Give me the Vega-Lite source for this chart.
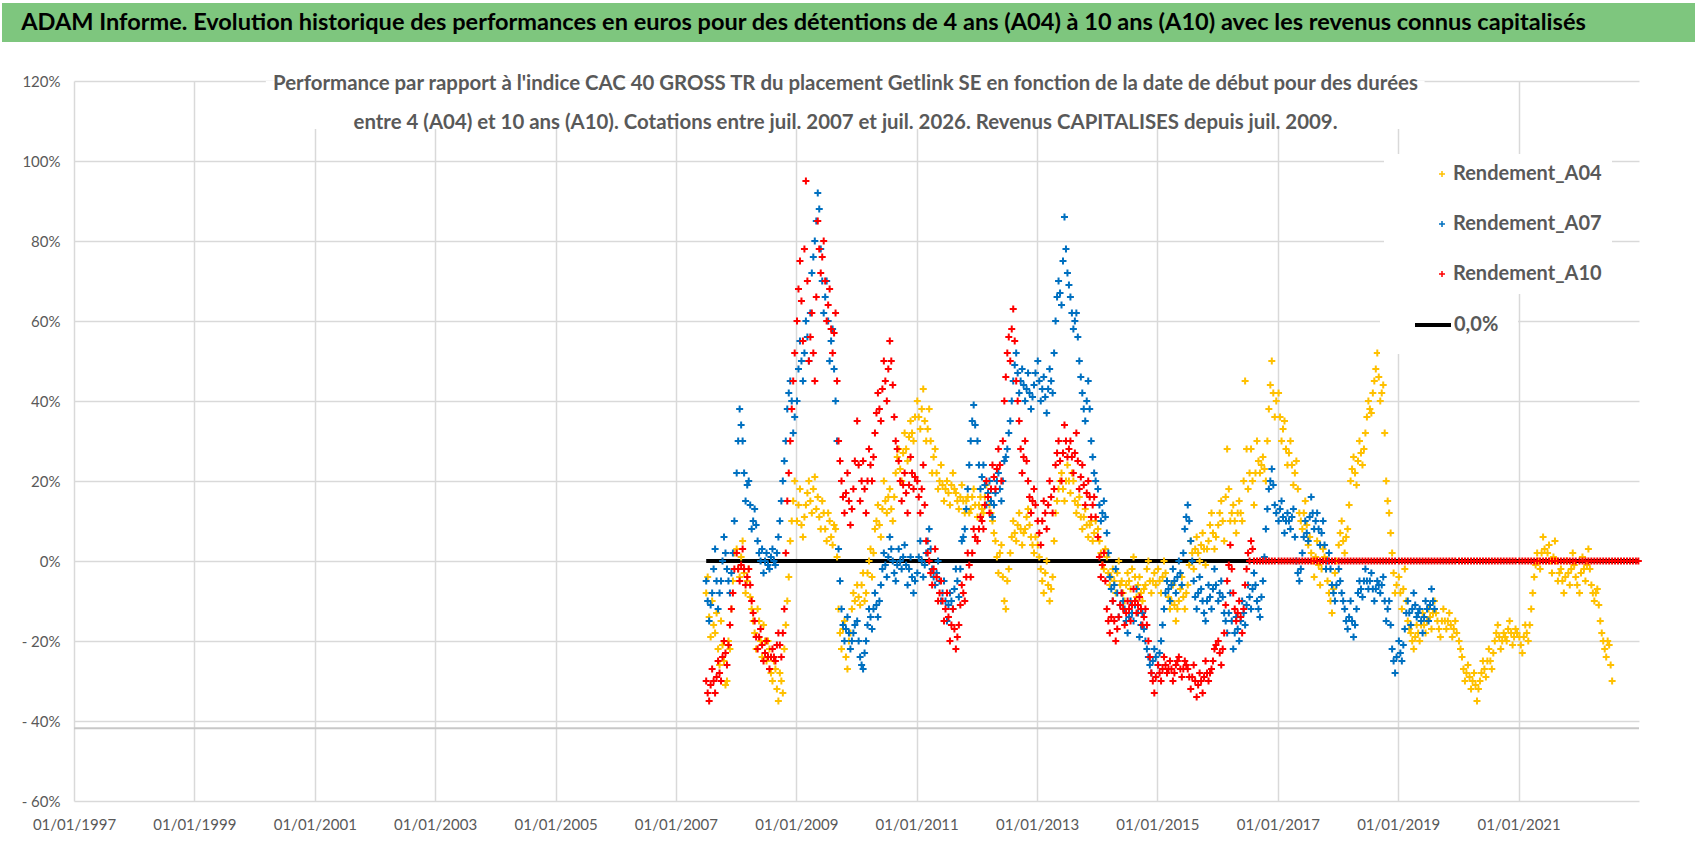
{
"$schema": "https://vega.github.io/schema/vega-lite/v6.json",
"background": "white",
"padding": {"left": 2, "top": 3, "right": 0, "bottom": 0},
"config": {"view": {"stroke": null}, "font": "Lato"},
"spacing": 31,
"datasets": {
"zero": [{"d":"2007-07-04","v":0},{"d":"2022-12-28","v":0}],
"a04": [
{"d":"2007-07-04","v":-0.08},{"d":"2007-07-22","v":-0.14},{"d":"2007-08-09","v":-0.1},{"d":"2007-08-27","v":-0.18},{"d":"2007-09-14","v":-0.22},{"d":"2007-10-02","v":-0.15},{"d":"2007-10-20","v":-0.25},{"d":"2007-11-07","v":-0.3},{"d":"2007-11-25","v":-0.22},{"d":"2007-12-13","v":-0.05},
{"d":"2007-07-13","v":-0.04},{"d":"2007-07-31","v":-0.19},{"d":"2007-08-18","v":-0.16},{"d":"2007-09-05","v":-0.13},{"d":"2007-09-23","v":-0.26},{"d":"2007-10-11","v":-0.21},{"d":"2007-10-29","v":-0.31},{"d":"2007-11-16","v":-0.2},{"d":"2007-12-04","v":-0.12},{"d":"2007-12-22","v":0.02},
{"d":"2008-01-05","v":0.03},{"d":"2008-01-23","v":-0.04},{"d":"2008-02-10","v":0.05},{"d":"2008-02-28","v":-0.08},{"d":"2008-03-18","v":-0.02},{"d":"2008-04-05","v":-0.12},{"d":"2008-04-23","v":-0.18},{"d":"2008-05-11","v":-0.12},{"d":"2008-05-29","v":-0.2},{"d":"2008-06-16","v":-0.16},{"d":"2008-07-04","v":-0.25},{"d":"2008-07-22","v":-0.22},{"d":"2008-08-09","v":-0.3},{"d":"2008-08-27","v":-0.27},{"d":"2008-09-14","v":-0.35},{"d":"2008-10-02","v":-0.3},{"d":"2008-10-20","v":-0.22},{"d":"2008-11-07","v":-0.1},{"d":"2008-11-25","v":0.05},{"d":"2008-12-13","v":0.15},
{"d":"2008-01-14","v":-0.02},{"d":"2008-02-01","v":0.01},{"d":"2008-02-19","v":-0.03},{"d":"2008-03-09","v":-0.05},{"d":"2008-03-27","v":-0.09},{"d":"2008-04-14","v":-0.15},{"d":"2008-05-02","v":-0.22},{"d":"2008-05-20","v":-0.15},{"d":"2008-06-07","v":-0.24},{"d":"2008-06-25","v":-0.2},{"d":"2008-07-13","v":-0.2},{"d":"2008-07-31","v":-0.28},{"d":"2008-08-18","v":-0.25},{"d":"2008-09-05","v":-0.32},{"d":"2008-09-23","v":-0.28},{"d":"2008-10-11","v":-0.33},{"d":"2008-10-29","v":-0.16},{"d":"2008-11-16","v":-0.04},{"d":"2008-12-04","v":0.1},{"d":"2008-12-22","v":0.2},
{"d":"2009-01-05","v":0.1},{"d":"2009-01-23","v":0.18},{"d":"2009-02-10","v":0.06},{"d":"2009-02-28","v":0.14},{"d":"2009-03-18","v":0.2},{"d":"2009-04-05","v":0.12},{"d":"2009-04-23","v":0.21},{"d":"2009-05-11","v":0.16},{"d":"2009-05-29","v":0.08},{"d":"2009-06-16","v":0.12},{"d":"2009-07-04","v":0.05},{"d":"2009-07-22","v":0.1},{"d":"2009-08-09","v":0.04},{"d":"2009-08-27","v":0.08},{"d":"2009-09-14","v":-0.12},{"d":"2009-10-02","v":-0.22},{"d":"2009-10-20","v":-0.15},{"d":"2009-11-07","v":-0.27},{"d":"2009-11-25","v":-0.18},{"d":"2009-12-13","v":-0.08},
{"d":"2009-01-14","v":0.14},{"d":"2009-02-01","v":0.09},{"d":"2009-02-19","v":0.11},{"d":"2009-03-09","v":0.17},{"d":"2009-03-27","v":0.15},{"d":"2009-04-14","v":0.18},{"d":"2009-05-02","v":0.13},{"d":"2009-05-20","v":0.11},{"d":"2009-06-07","v":0.15},{"d":"2009-06-25","v":0.08},{"d":"2009-07-13","v":0.12},{"d":"2009-07-31","v":0.06},{"d":"2009-08-18","v":0.09},{"d":"2009-09-05","v":0.01},{"d":"2009-09-23","v":-0.18},{"d":"2009-10-11","v":-0.17},{"d":"2009-10-29","v":-0.24},{"d":"2009-11-16","v":-0.2},{"d":"2009-12-04","v":-0.12},{"d":"2009-12-22","v":-0.1},
{"d":"2010-01-05","v":-0.06},{"d":"2010-01-23","v":-0.11},{"d":"2010-02-10","v":-0.03},{"d":"2010-02-28","v":-0.08},{"d":"2010-03-18","v":0.0},{"d":"2010-04-05","v":-0.04},{"d":"2010-04-23","v":0.08},{"d":"2010-05-11","v":0.14},{"d":"2010-05-29","v":0.06},{"d":"2010-06-16","v":0.2},{"d":"2010-07-04","v":0.12},{"d":"2010-07-22","v":0.18},{"d":"2010-08-09","v":0.1},{"d":"2010-08-27","v":0.22},{"d":"2010-09-14","v":0.28},{"d":"2010-10-02","v":0.2},{"d":"2010-10-20","v":0.32},{"d":"2010-11-07","v":0.25},{"d":"2010-11-25","v":0.35},{"d":"2010-12-13","v":0.3},
{"d":"2010-01-14","v":-0.09},{"d":"2010-02-01","v":-0.06},{"d":"2010-02-19","v":-0.1},{"d":"2010-03-09","v":-0.03},{"d":"2010-03-27","v":0.03},{"d":"2010-04-14","v":0.02},{"d":"2010-05-02","v":0.1},{"d":"2010-05-20","v":0.09},{"d":"2010-06-07","v":0.13},{"d":"2010-06-25","v":0.15},{"d":"2010-07-13","v":0.16},{"d":"2010-07-31","v":0.13},{"d":"2010-08-18","v":0.16},{"d":"2010-09-05","v":0.26},{"d":"2010-09-23","v":0.23},{"d":"2010-10-11","v":0.27},{"d":"2010-10-29","v":0.28},{"d":"2010-11-16","v":0.31},{"d":"2010-12-04","v":0.32},{"d":"2010-12-22","v":0.36},
{"d":"2011-01-05","v":0.4},{"d":"2011-01-23","v":0.33},{"d":"2011-02-10","v":0.43},{"d":"2011-02-28","v":0.3},{"d":"2011-03-18","v":0.38},{"d":"2011-04-05","v":0.22},{"d":"2011-04-23","v":0.28},{"d":"2011-05-11","v":0.18},{"d":"2011-05-29","v":0.24},{"d":"2011-06-16","v":0.15},{"d":"2011-07-04","v":0.2},{"d":"2011-07-22","v":0.14},{"d":"2011-08-09","v":0.22},{"d":"2011-08-27","v":0.17},{"d":"2011-09-14","v":0.13},{"d":"2011-10-02","v":0.19},{"d":"2011-10-20","v":0.12},{"d":"2011-11-07","v":0.16},{"d":"2011-11-25","v":0.13},{"d":"2011-12-13","v":0.18},
{"d":"2011-01-14","v":0.36},{"d":"2011-02-01","v":0.38},{"d":"2011-02-19","v":0.35},{"d":"2011-03-09","v":0.33},{"d":"2011-03-27","v":0.3},{"d":"2011-04-14","v":0.26},{"d":"2011-05-02","v":0.22},{"d":"2011-05-20","v":0.2},{"d":"2011-06-07","v":0.19},{"d":"2011-06-25","v":0.18},{"d":"2011-07-13","v":0.17},{"d":"2011-07-31","v":0.19},{"d":"2011-08-18","v":0.18},{"d":"2011-09-05","v":0.15},{"d":"2011-09-23","v":0.16},{"d":"2011-10-11","v":0.15},{"d":"2011-10-29","v":0.15},{"d":"2011-11-16","v":0.12},{"d":"2011-12-04","v":0.16},{"d":"2011-12-22","v":0.14},
{"d":"2012-01-05","v":0.11},{"d":"2012-01-23","v":0.16},{"d":"2012-02-10","v":0.12},{"d":"2012-02-28","v":0.19},{"d":"2012-03-18","v":0.14},{"d":"2012-04-05","v":0.1},{"d":"2012-04-23","v":0.05},{"d":"2012-05-11","v":-0.03},{"d":"2012-05-29","v":0.04},{"d":"2012-06-16","v":-0.1},{"d":"2012-07-04","v":-0.05},{"d":"2012-07-22","v":0.02},{"d":"2012-08-09","v":0.1},{"d":"2012-08-27","v":0.05},{"d":"2012-09-14","v":0.12},{"d":"2012-10-02","v":0.04},{"d":"2012-10-20","v":0.08},{"d":"2012-11-07","v":0.13},{"d":"2012-11-25","v":0.06},{"d":"2012-12-13","v":0.02},
{"d":"2012-01-14","v":0.14},{"d":"2012-02-01","v":0.13},{"d":"2012-02-19","v":0.16},{"d":"2012-03-09","v":0.16},{"d":"2012-03-27","v":0.12},{"d":"2012-04-14","v":0.07},{"d":"2012-05-02","v":0.01},{"d":"2012-05-20","v":0.02},{"d":"2012-06-07","v":-0.04},{"d":"2012-06-25","v":-0.12},{"d":"2012-07-13","v":-0.02},{"d":"2012-07-31","v":0.06},{"d":"2012-08-18","v":0.07},{"d":"2012-09-05","v":0.09},{"d":"2012-09-23","v":0.08},{"d":"2012-10-11","v":0.07},{"d":"2012-10-29","v":0.11},{"d":"2012-11-16","v":0.09},{"d":"2012-12-04","v":0.04},{"d":"2012-12-22","v":0.06},
{"d":"2013-01-05","v":0.04},{"d":"2013-01-23","v":-0.02},{"d":"2013-02-10","v":-0.08},{"d":"2013-02-28","v":0.0},{"d":"2013-03-18","v":-0.1},{"d":"2013-04-05","v":-0.04},{"d":"2013-04-23","v":0.12},{"d":"2013-05-11","v":0.18},{"d":"2013-05-29","v":0.22},{"d":"2013-06-16","v":0.15},{"d":"2013-07-04","v":0.24},{"d":"2013-07-22","v":0.17},{"d":"2013-08-09","v":0.2},{"d":"2013-08-27","v":0.12},{"d":"2013-09-14","v":0.16},{"d":"2013-10-02","v":0.08},{"d":"2013-10-20","v":0.13},{"d":"2013-11-07","v":0.06},{"d":"2013-11-25","v":0.1},{"d":"2013-12-13","v":0.07},
{"d":"2013-01-14","v":0.01},{"d":"2013-02-01","v":-0.05},{"d":"2013-02-19","v":-0.03},{"d":"2013-03-09","v":-0.06},{"d":"2013-03-27","v":-0.07},{"d":"2013-04-14","v":0.05},{"d":"2013-05-02","v":0.15},{"d":"2013-05-20","v":0.2},{"d":"2013-06-07","v":0.18},{"d":"2013-06-25","v":0.2},{"d":"2013-07-13","v":0.2},{"d":"2013-07-31","v":0.22},{"d":"2013-08-18","v":0.15},{"d":"2013-09-05","v":0.14},{"d":"2013-09-23","v":0.11},{"d":"2013-10-11","v":0.11},{"d":"2013-10-29","v":0.09},{"d":"2013-11-16","v":0.09},{"d":"2013-12-04","v":0.05},{"d":"2013-12-22","v":0.1},
{"d":"2014-01-05","v":0.08},{"d":"2014-01-23","v":0.02},{"d":"2014-02-10","v":-0.02},{"d":"2014-02-28","v":0.01},{"d":"2014-03-18","v":-0.06},{"d":"2014-04-05","v":-0.02},{"d":"2014-04-23","v":-0.08},{"d":"2014-05-11","v":0.0},{"d":"2014-05-29","v":-0.05},{"d":"2014-06-16","v":-0.1},{"d":"2014-07-04","v":-0.03},{"d":"2014-07-22","v":-0.07},{"d":"2014-08-09","v":0.01},{"d":"2014-08-27","v":-0.09},{"d":"2014-09-14","v":-0.04},{"d":"2014-10-02","v":-0.1},{"d":"2014-10-20","v":-0.06},{"d":"2014-11-07","v":0.0},{"d":"2014-11-25","v":-0.08},{"d":"2014-12-13","v":-0.03},
{"d":"2014-01-14","v":0.05},{"d":"2014-02-01","v":-0.01},{"d":"2014-02-19","v":0.03},{"d":"2014-03-09","v":-0.03},{"d":"2014-03-27","v":-0.04},{"d":"2014-04-14","v":-0.05},{"d":"2014-05-02","v":-0.03},{"d":"2014-05-20","v":-0.06},{"d":"2014-06-07","v":-0.08},{"d":"2014-06-25","v":-0.06},{"d":"2014-07-13","v":-0.05},{"d":"2014-07-31","v":-0.02},{"d":"2014-08-18","v":-0.04},{"d":"2014-09-05","v":-0.06},{"d":"2014-09-23","v":-0.08},{"d":"2014-10-11","v":-0.07},{"d":"2014-10-29","v":-0.02},{"d":"2014-11-16","v":-0.05},{"d":"2014-12-04","v":-0.05},{"d":"2014-12-22","v":-0.06},
{"d":"2015-01-05","v":-0.02},{"d":"2015-01-23","v":-0.08},{"d":"2015-02-10","v":0.0},{"d":"2015-02-28","v":-0.05},{"d":"2015-03-18","v":-0.12},{"d":"2015-04-05","v":-0.06},{"d":"2015-04-23","v":-0.15},{"d":"2015-05-11","v":-0.1},{"d":"2015-05-29","v":-0.04},{"d":"2015-06-16","v":-0.12},{"d":"2015-07-04","v":-0.06},{"d":"2015-07-22","v":0.05},{"d":"2015-08-09","v":-0.02},{"d":"2015-08-27","v":0.06},{"d":"2015-09-14","v":0.0},{"d":"2015-10-02","v":0.07},{"d":"2015-10-20","v":-0.01},{"d":"2015-11-07","v":0.05},{"d":"2015-11-25","v":0.12},{"d":"2015-12-13","v":0.03},
{"d":"2015-01-14","v":-0.05},{"d":"2015-02-01","v":-0.04},{"d":"2015-02-19","v":-0.03},{"d":"2015-03-09","v":-0.09},{"d":"2015-03-27","v":-0.1},{"d":"2015-04-14","v":-0.11},{"d":"2015-05-02","v":-0.12},{"d":"2015-05-20","v":-0.07},{"d":"2015-06-07","v":-0.09},{"d":"2015-06-25","v":-0.08},{"d":"2015-07-13","v":-0.01},{"d":"2015-07-31","v":0.02},{"d":"2015-08-18","v":0.03},{"d":"2015-09-05","v":0.02},{"d":"2015-09-23","v":0.04},{"d":"2015-10-11","v":0.03},{"d":"2015-10-29","v":0.03},{"d":"2015-11-16","v":0.09},{"d":"2015-12-04","v":0.07},{"d":"2015-12-22","v":0.06},
{"d":"2016-01-05","v":0.09},{"d":"2016-01-23","v":0.15},{"d":"2016-02-10","v":0.05},{"d":"2016-02-28","v":0.28},{"d":"2016-03-18","v":0.1},{"d":"2016-04-05","v":0.14},{"d":"2016-04-23","v":0.07},{"d":"2016-05-11","v":0.15},{"d":"2016-05-29","v":0.1},{"d":"2016-06-16","v":0.45},{"d":"2016-07-04","v":0.18},{"d":"2016-07-22","v":0.28},{"d":"2016-08-09","v":0.14},{"d":"2016-08-27","v":0.3},{"d":"2016-09-14","v":0.22},{"d":"2016-10-02","v":0.26},{"d":"2016-10-20","v":0.2},{"d":"2016-11-07","v":0.38},{"d":"2016-11-25","v":0.5},{"d":"2016-12-13","v":0.36},
{"d":"2016-01-14","v":0.12},{"d":"2016-02-01","v":0.1},{"d":"2016-02-19","v":0.16},{"d":"2016-03-09","v":0.18},{"d":"2016-03-27","v":0.12},{"d":"2016-04-14","v":0.1},{"d":"2016-05-02","v":0.12},{"d":"2016-05-20","v":0.12},{"d":"2016-06-07","v":0.2},{"d":"2016-06-25","v":0.28},{"d":"2016-07-13","v":0.22},{"d":"2016-07-31","v":0.2},{"d":"2016-08-18","v":0.22},{"d":"2016-09-05","v":0.25},{"d":"2016-09-23","v":0.24},{"d":"2016-10-11","v":0.23},{"d":"2016-10-29","v":0.3},{"d":"2016-11-16","v":0.44},{"d":"2016-12-04","v":0.42},{"d":"2016-12-22","v":0.4},
{"d":"2017-01-05","v":0.42},{"d":"2017-01-23","v":0.3},{"d":"2017-02-10","v":0.35},{"d":"2017-02-28","v":0.24},{"d":"2017-03-18","v":0.3},{"d":"2017-04-05","v":0.19},{"d":"2017-04-23","v":0.25},{"d":"2017-05-11","v":0.12},{"d":"2017-05-29","v":0.08},{"d":"2017-06-16","v":0.15},{"d":"2017-07-04","v":0.04},{"d":"2017-07-22","v":0.02},{"d":"2017-08-09","v":-0.04},{"d":"2017-08-27","v":0.05},{"d":"2017-09-14","v":-0.06},{"d":"2017-10-02","v":0.03},{"d":"2017-10-20","v":-0.02},{"d":"2017-11-07","v":-0.08},{"d":"2017-11-25","v":-0.13},{"d":"2017-12-13","v":-0.03},
{"d":"2017-01-14","v":0.36},{"d":"2017-02-01","v":0.33},{"d":"2017-02-19","v":0.28},{"d":"2017-03-09","v":0.27},{"d":"2017-03-27","v":0.24},{"d":"2017-04-14","v":0.22},{"d":"2017-05-02","v":0.18},{"d":"2017-05-20","v":0.1},{"d":"2017-06-07","v":0.12},{"d":"2017-06-25","v":0.09},{"d":"2017-07-13","v":0.06},{"d":"2017-07-31","v":0.0},{"d":"2017-08-18","v":0.01},{"d":"2017-09-05","v":-0.01},{"d":"2017-09-23","v":-0.02},{"d":"2017-10-11","v":0.01},{"d":"2017-10-29","v":-0.05},{"d":"2017-11-16","v":-0.1},{"d":"2017-12-04","v":-0.07},{"d":"2017-12-22","v":0.0},
{"d":"2018-01-05","v":0.04},{"d":"2018-01-23","v":0.1},{"d":"2018-02-10","v":0.02},{"d":"2018-02-28","v":0.08},{"d":"2018-03-18","v":0.2},{"d":"2018-04-05","v":0.26},{"d":"2018-04-23","v":0.19},{"d":"2018-05-11","v":0.3},{"d":"2018-05-29","v":0.24},{"d":"2018-06-16","v":0.32},{"d":"2018-07-04","v":0.4},{"d":"2018-07-22","v":0.37},{"d":"2018-08-09","v":0.45},{"d":"2018-08-27","v":0.52},{"d":"2018-09-14","v":0.4},{"d":"2018-10-02","v":0.44},{"d":"2018-10-20","v":0.2},{"d":"2018-11-07","v":0.12},{"d":"2018-11-25","v":0.02},{"d":"2018-12-13","v":-0.08},
{"d":"2018-01-14","v":0.07},{"d":"2018-02-01","v":0.05},{"d":"2018-02-19","v":0.06},{"d":"2018-03-09","v":0.14},{"d":"2018-03-27","v":0.23},{"d":"2018-04-14","v":0.22},{"d":"2018-05-02","v":0.25},{"d":"2018-05-20","v":0.27},{"d":"2018-06-07","v":0.28},{"d":"2018-06-25","v":0.36},{"d":"2018-07-13","v":0.38},{"d":"2018-07-31","v":0.42},{"d":"2018-08-18","v":0.48},{"d":"2018-09-05","v":0.46},{"d":"2018-09-23","v":0.42},{"d":"2018-10-11","v":0.32},{"d":"2018-10-29","v":0.15},{"d":"2018-11-16","v":0.07},{"d":"2018-12-04","v":-0.03},{"d":"2018-12-22","v":-0.06},
{"d":"2019-01-05","v":-0.04},{"d":"2019-01-23","v":-0.12},{"d":"2019-02-10","v":-0.02},{"d":"2019-02-28","v":-0.15},{"d":"2019-03-18","v":-0.18},{"d":"2019-04-05","v":-0.22},{"d":"2019-04-23","v":-0.16},{"d":"2019-05-11","v":-0.2},{"d":"2019-05-29","v":-0.13},{"d":"2019-06-16","v":-0.18},{"d":"2019-07-04","v":-0.12},{"d":"2019-07-22","v":-0.17},{"d":"2019-08-09","v":-0.1},{"d":"2019-08-27","v":-0.15},{"d":"2019-09-14","v":-0.19},{"d":"2019-10-02","v":-0.12},{"d":"2019-10-20","v":-0.17},{"d":"2019-11-07","v":-0.13},{"d":"2019-11-25","v":-0.19},{"d":"2019-12-13","v":-0.15},
{"d":"2019-01-14","v":-0.08},{"d":"2019-02-01","v":-0.07},{"d":"2019-02-19","v":-0.1},{"d":"2019-03-09","v":-0.17},{"d":"2019-03-27","v":-0.2},{"d":"2019-04-14","v":-0.19},{"d":"2019-05-02","v":-0.18},{"d":"2019-05-20","v":-0.16},{"d":"2019-06-07","v":-0.16},{"d":"2019-06-25","v":-0.15},{"d":"2019-07-13","v":-0.14},{"d":"2019-07-31","v":-0.13},{"d":"2019-08-18","v":-0.13},{"d":"2019-09-05","v":-0.17},{"d":"2019-09-23","v":-0.15},{"d":"2019-10-11","v":-0.15},{"d":"2019-10-29","v":-0.15},{"d":"2019-11-16","v":-0.16},{"d":"2019-12-04","v":-0.17},{"d":"2019-12-22","v":-0.18},
{"d":"2020-01-05","v":-0.2},{"d":"2020-01-23","v":-0.24},{"d":"2020-02-10","v":-0.3},{"d":"2020-02-28","v":-0.26},{"d":"2020-03-18","v":-0.32},{"d":"2020-04-05","v":-0.28},{"d":"2020-04-23","v":-0.35},{"d":"2020-05-11","v":-0.3},{"d":"2020-05-29","v":-0.25},{"d":"2020-06-16","v":-0.29},{"d":"2020-07-04","v":-0.22},{"d":"2020-07-22","v":-0.27},{"d":"2020-08-09","v":-0.2},{"d":"2020-08-27","v":-0.16},{"d":"2020-09-14","v":-0.22},{"d":"2020-10-02","v":-0.18},{"d":"2020-10-20","v":-0.2},{"d":"2020-11-07","v":-0.15},{"d":"2020-11-25","v":-0.21},{"d":"2020-12-13","v":-0.17},
{"d":"2020-01-14","v":-0.22},{"d":"2020-02-01","v":-0.27},{"d":"2020-02-19","v":-0.28},{"d":"2020-03-09","v":-0.29},{"d":"2020-03-27","v":-0.3},{"d":"2020-04-14","v":-0.31},{"d":"2020-05-02","v":-0.32},{"d":"2020-05-20","v":-0.28},{"d":"2020-06-07","v":-0.27},{"d":"2020-06-25","v":-0.25},{"d":"2020-07-13","v":-0.25},{"d":"2020-07-31","v":-0.23},{"d":"2020-08-18","v":-0.18},{"d":"2020-09-05","v":-0.19},{"d":"2020-09-23","v":-0.2},{"d":"2020-10-11","v":-0.19},{"d":"2020-10-29","v":-0.17},{"d":"2020-11-16","v":-0.18},{"d":"2020-12-04","v":-0.19},{"d":"2020-12-22","v":-0.18},
{"d":"2021-01-05","v":-0.19},{"d":"2021-01-23","v":-0.23},{"d":"2021-02-10","v":-0.16},{"d":"2021-02-28","v":-0.2},{"d":"2021-03-18","v":-0.12},{"d":"2021-04-05","v":-0.04},{"d":"2021-04-23","v":0.02},{"d":"2021-05-11","v":-0.02},{"d":"2021-05-29","v":0.06},{"d":"2021-06-16","v":0.0},{"d":"2021-07-04","v":0.04},{"d":"2021-07-22","v":-0.03},{"d":"2021-08-09","v":0.05},{"d":"2021-08-27","v":-0.05},{"d":"2021-09-14","v":-0.02},{"d":"2021-10-02","v":-0.08},{"d":"2021-10-20","v":0.0},{"d":"2021-11-07","v":-0.06},{"d":"2021-11-25","v":0.02},{"d":"2021-12-13","v":-0.04},
{"d":"2021-01-14","v":-0.21},{"d":"2021-02-01","v":-0.19},{"d":"2021-02-19","v":-0.18},{"d":"2021-03-09","v":-0.16},{"d":"2021-03-27","v":-0.08},{"d":"2021-04-14","v":-0.01},{"d":"2021-05-02","v":0.0},{"d":"2021-05-20","v":0.02},{"d":"2021-06-07","v":0.03},{"d":"2021-06-25","v":0.02},{"d":"2021-07-13","v":0.0},{"d":"2021-07-31","v":0.01},{"d":"2021-08-18","v":0.0},{"d":"2021-09-05","v":-0.03},{"d":"2021-09-23","v":-0.05},{"d":"2021-10-11","v":-0.04},{"d":"2021-10-29","v":-0.03},{"d":"2021-11-16","v":-0.02},{"d":"2021-12-04","v":-0.01},{"d":"2021-12-22","v":-0.06},
{"d":"2022-01-05","v":-0.08},{"d":"2022-01-23","v":0.01},{"d":"2022-02-10","v":-0.05},{"d":"2022-02-28","v":0.03},{"d":"2022-03-18","v":-0.06},{"d":"2022-04-05","v":-0.1},{"d":"2022-04-23","v":-0.07},{"d":"2022-05-11","v":-0.15},{"d":"2022-05-29","v":-0.2},{"d":"2022-06-16","v":-0.24},{"d":"2022-07-04","v":-0.21},{"d":"2022-07-22","v":-0.3},
{"d":"2022-01-14","v":-0.03},{"d":"2022-02-01","v":-0.02},{"d":"2022-02-19","v":-0.01},{"d":"2022-03-09","v":-0.02},{"d":"2022-03-27","v":-0.08},{"d":"2022-04-14","v":-0.08},{"d":"2022-05-02","v":-0.11},{"d":"2022-05-20","v":-0.18},{"d":"2022-06-07","v":-0.22},{"d":"2022-06-25","v":-0.2},{"d":"2022-07-13","v":-0.26}
],
"a07": [
{"d":"2007-07-04","v":-0.05},{"d":"2007-07-22","v":-0.15},{"d":"2007-08-09","v":-0.08},{"d":"2007-08-27","v":0.03},{"d":"2007-09-14","v":-0.12},{"d":"2007-10-02","v":-0.05},{"d":"2007-10-20","v":0.06},{"d":"2007-11-07","v":-0.02},{"d":"2007-11-25","v":-0.08},{"d":"2007-12-13","v":0.02},
{"d":"2007-07-13","v":-0.1},{"d":"2007-07-31","v":-0.11},{"d":"2007-08-18","v":-0.02},{"d":"2007-09-05","v":-0.05},{"d":"2007-09-23","v":-0.08},{"d":"2007-10-11","v":0.0},{"d":"2007-10-29","v":0.02},{"d":"2007-11-16","v":-0.05},{"d":"2007-12-04","v":-0.03},{"d":"2007-12-22","v":0.1},
{"d":"2008-01-05","v":0.22},{"d":"2008-01-23","v":0.38},{"d":"2008-02-10","v":0.3},{"d":"2008-02-28","v":0.15},{"d":"2008-03-18","v":0.2},{"d":"2008-04-05","v":0.08},{"d":"2008-04-23","v":0.13},{"d":"2008-05-11","v":0.05},{"d":"2008-05-29","v":0.0},{"d":"2008-06-16","v":-0.03},{"d":"2008-07-04","v":0.02},{"d":"2008-07-22","v":-0.02},{"d":"2008-08-09","v":0.03},{"d":"2008-08-27","v":-0.01},{"d":"2008-09-14","v":0.06},{"d":"2008-10-02","v":0.15},{"d":"2008-10-20","v":0.25},{"d":"2008-11-07","v":0.38},{"d":"2008-11-25","v":0.45},{"d":"2008-12-13","v":0.32},
{"d":"2008-01-14","v":0.3},{"d":"2008-02-01","v":0.34},{"d":"2008-02-19","v":0.22},{"d":"2008-03-09","v":0.19},{"d":"2008-03-27","v":0.14},{"d":"2008-04-14","v":0.1},{"d":"2008-05-02","v":0.09},{"d":"2008-05-20","v":0.02},{"d":"2008-06-07","v":0.03},{"d":"2008-06-25","v":0.0},{"d":"2008-07-13","v":-0.01},{"d":"2008-07-31","v":0.01},{"d":"2008-08-18","v":0.0},{"d":"2008-09-05","v":0.02},{"d":"2008-09-23","v":0.1},{"d":"2008-10-11","v":0.2},{"d":"2008-10-29","v":0.3},{"d":"2008-11-16","v":0.42},{"d":"2008-12-04","v":0.4},{"d":"2008-12-22","v":0.36},
{"d":"2009-01-05","v":0.4},{"d":"2009-01-23","v":0.55},{"d":"2009-02-10","v":0.45},{"d":"2009-02-28","v":0.6},{"d":"2009-03-18","v":0.5},{"d":"2009-04-05","v":0.72},{"d":"2009-04-23","v":0.8},{"d":"2009-05-11","v":0.92},{"d":"2009-05-29","v":0.78},{"d":"2009-06-16","v":0.62},{"d":"2009-07-04","v":0.7},{"d":"2009-07-22","v":0.5},{"d":"2009-08-09","v":0.58},{"d":"2009-08-27","v":0.4},{"d":"2009-09-14","v":0.03},{"d":"2009-10-02","v":-0.12},{"d":"2009-10-20","v":-0.2},{"d":"2009-11-07","v":-0.14},{"d":"2009-11-25","v":-0.22},{"d":"2009-12-13","v":-0.18},
{"d":"2009-01-14","v":0.48},{"d":"2009-02-01","v":0.5},{"d":"2009-02-19","v":0.52},{"d":"2009-03-09","v":0.56},{"d":"2009-03-27","v":0.62},{"d":"2009-04-14","v":0.76},{"d":"2009-05-02","v":0.85},{"d":"2009-05-20","v":0.88},{"d":"2009-06-07","v":0.7},{"d":"2009-06-25","v":0.66},{"d":"2009-07-13","v":0.6},{"d":"2009-07-31","v":0.55},{"d":"2009-08-18","v":0.48},{"d":"2009-09-05","v":0.3},{"d":"2009-09-23","v":-0.05},{"d":"2009-10-11","v":-0.16},{"d":"2009-10-29","v":-0.17},{"d":"2009-11-16","v":-0.18},{"d":"2009-12-04","v":-0.2},{"d":"2009-12-22","v":-0.16},
{"d":"2010-01-05","v":-0.15},{"d":"2010-01-23","v":-0.24},{"d":"2010-02-10","v":-0.27},{"d":"2010-02-28","v":-0.2},{"d":"2010-03-18","v":-0.12},{"d":"2010-04-05","v":-0.17},{"d":"2010-04-23","v":-0.08},{"d":"2010-05-11","v":-0.14},{"d":"2010-05-29","v":-0.06},{"d":"2010-06-16","v":0.02},{"d":"2010-07-04","v":-0.04},{"d":"2010-07-22","v":0.06},{"d":"2010-08-09","v":0.0},{"d":"2010-08-27","v":-0.05},{"d":"2010-09-14","v":0.03},{"d":"2010-10-02","v":-0.02},{"d":"2010-10-20","v":0.04},{"d":"2010-11-07","v":-0.06},{"d":"2010-11-25","v":0.01},{"d":"2010-12-13","v":-0.08},
{"d":"2010-01-14","v":-0.2},{"d":"2010-02-01","v":-0.26},{"d":"2010-02-19","v":-0.23},{"d":"2010-03-09","v":-0.16},{"d":"2010-03-27","v":-0.14},{"d":"2010-04-14","v":-0.12},{"d":"2010-05-02","v":-0.11},{"d":"2010-05-20","v":-0.1},{"d":"2010-06-07","v":-0.02},{"d":"2010-06-25","v":-0.01},{"d":"2010-07-13","v":0.01},{"d":"2010-07-31","v":0.03},{"d":"2010-08-18","v":-0.03},{"d":"2010-09-05","v":-0.01},{"d":"2010-09-23","v":0.0},{"d":"2010-10-11","v":0.01},{"d":"2010-10-29","v":-0.01},{"d":"2010-11-16","v":-0.02},{"d":"2010-12-04","v":-0.04},{"d":"2010-12-22","v":-0.05},
{"d":"2011-01-05","v":-0.03},{"d":"2011-01-23","v":0.05},{"d":"2011-02-10","v":-0.04},{"d":"2011-02-28","v":0.02},{"d":"2011-03-18","v":0.08},{"d":"2011-04-05","v":-0.02},{"d":"2011-04-23","v":-0.06},{"d":"2011-05-11","v":0.0},{"d":"2011-05-29","v":-0.1},{"d":"2011-06-16","v":-0.05},{"d":"2011-07-04","v":-0.15},{"d":"2011-07-22","v":-0.08},{"d":"2011-08-09","v":-0.12},{"d":"2011-08-27","v":-0.02},{"d":"2011-09-14","v":-0.09},{"d":"2011-10-02","v":0.05},{"d":"2011-10-20","v":0.08},{"d":"2011-11-07","v":0.18},{"d":"2011-11-25","v":0.3},{"d":"2011-12-13","v":0.39},
{"d":"2011-01-14","v":0.01},{"d":"2011-02-01","v":0.0},{"d":"2011-02-19","v":-0.01},{"d":"2011-03-09","v":0.05},{"d":"2011-03-27","v":0.03},{"d":"2011-04-14","v":-0.04},{"d":"2011-05-02","v":-0.03},{"d":"2011-05-20","v":-0.05},{"d":"2011-06-07","v":-0.08},{"d":"2011-06-25","v":-0.1},{"d":"2011-07-13","v":-0.11},{"d":"2011-07-31","v":-0.1},{"d":"2011-08-18","v":-0.07},{"d":"2011-09-05","v":-0.05},{"d":"2011-09-23","v":-0.02},{"d":"2011-10-11","v":0.06},{"d":"2011-10-29","v":0.13},{"d":"2011-11-16","v":0.24},{"d":"2011-12-04","v":0.35},{"d":"2011-12-22","v":0.34},
{"d":"2012-01-05","v":0.3},{"d":"2012-01-23","v":0.18},{"d":"2012-02-10","v":0.24},{"d":"2012-02-28","v":0.14},{"d":"2012-03-18","v":0.2},{"d":"2012-04-05","v":0.11},{"d":"2012-04-23","v":0.17},{"d":"2012-05-11","v":0.22},{"d":"2012-05-29","v":0.15},{"d":"2012-06-16","v":0.25},{"d":"2012-07-04","v":0.28},{"d":"2012-07-22","v":0.35},{"d":"2012-08-09","v":0.45},{"d":"2012-08-27","v":0.52},{"d":"2012-09-14","v":0.42},{"d":"2012-10-02","v":0.48},{"d":"2012-10-20","v":0.4},{"d":"2012-11-07","v":0.47},{"d":"2012-11-25","v":0.38},{"d":"2012-12-13","v":0.44},
{"d":"2012-01-14","v":0.24},{"d":"2012-02-01","v":0.21},{"d":"2012-02-19","v":0.19},{"d":"2012-03-09","v":0.17},{"d":"2012-03-27","v":0.15},{"d":"2012-04-14","v":0.14},{"d":"2012-05-02","v":0.2},{"d":"2012-05-20","v":0.18},{"d":"2012-06-07","v":0.2},{"d":"2012-06-25","v":0.26},{"d":"2012-07-13","v":0.32},{"d":"2012-07-31","v":0.4},{"d":"2012-08-18","v":0.49},{"d":"2012-09-05","v":0.47},{"d":"2012-09-23","v":0.45},{"d":"2012-10-11","v":0.44},{"d":"2012-10-29","v":0.43},{"d":"2012-11-16","v":0.42},{"d":"2012-12-04","v":0.41},{"d":"2012-12-22","v":0.47},
{"d":"2013-01-05","v":0.5},{"d":"2013-01-23","v":0.4},{"d":"2013-02-10","v":0.46},{"d":"2013-02-28","v":0.37},{"d":"2013-03-18","v":0.48},{"d":"2013-04-05","v":0.42},{"d":"2013-04-23","v":0.6},{"d":"2013-05-11","v":0.7},{"d":"2013-05-29","v":0.64},{"d":"2013-06-16","v":0.86},{"d":"2013-07-04","v":0.72},{"d":"2013-07-22","v":0.66},{"d":"2013-08-09","v":0.58},{"d":"2013-08-27","v":0.62},{"d":"2013-09-14","v":0.5},{"d":"2013-10-02","v":0.42},{"d":"2013-10-20","v":0.35},{"d":"2013-11-07","v":0.45},{"d":"2013-11-25","v":0.3},{"d":"2013-12-13","v":0.22},
{"d":"2013-01-14","v":0.45},{"d":"2013-02-01","v":0.43},{"d":"2013-02-19","v":0.41},{"d":"2013-03-09","v":0.43},{"d":"2013-03-27","v":0.45},{"d":"2013-04-14","v":0.52},{"d":"2013-05-02","v":0.66},{"d":"2013-05-20","v":0.67},{"d":"2013-06-07","v":0.75},{"d":"2013-06-25","v":0.78},{"d":"2013-07-13","v":0.69},{"d":"2013-07-31","v":0.62},{"d":"2013-08-18","v":0.6},{"d":"2013-09-05","v":0.56},{"d":"2013-09-23","v":0.46},{"d":"2013-10-11","v":0.38},{"d":"2013-10-29","v":0.4},{"d":"2013-11-16","v":0.38},{"d":"2013-12-04","v":0.26},{"d":"2013-12-22","v":0.2},
{"d":"2014-01-05","v":0.18},{"d":"2014-01-23","v":0.1},{"d":"2014-02-10","v":0.15},{"d":"2014-02-28","v":0.07},{"d":"2014-03-18","v":-0.04},{"d":"2014-04-05","v":-0.1},{"d":"2014-04-23","v":-0.02},{"d":"2014-05-11","v":-0.14},{"d":"2014-05-29","v":-0.08},{"d":"2014-06-16","v":-0.12},{"d":"2014-07-04","v":-0.18},{"d":"2014-07-22","v":-0.1},{"d":"2014-08-09","v":-0.15},{"d":"2014-08-27","v":-0.07},{"d":"2014-09-14","v":-0.19},{"d":"2014-10-02","v":-0.13},{"d":"2014-10-20","v":-0.2},{"d":"2014-11-07","v":-0.24},{"d":"2014-11-25","v":-0.28},{"d":"2014-12-13","v":-0.22},
{"d":"2014-01-14","v":0.14},{"d":"2014-02-01","v":0.12},{"d":"2014-02-19","v":0.11},{"d":"2014-03-09","v":0.02},{"d":"2014-03-27","v":-0.07},{"d":"2014-04-14","v":-0.06},{"d":"2014-05-02","v":-0.08},{"d":"2014-05-20","v":-0.11},{"d":"2014-06-07","v":-0.1},{"d":"2014-06-25","v":-0.15},{"d":"2014-07-13","v":-0.14},{"d":"2014-07-31","v":-0.13},{"d":"2014-08-18","v":-0.11},{"d":"2014-09-05","v":-0.13},{"d":"2014-09-23","v":-0.16},{"d":"2014-10-11","v":-0.17},{"d":"2014-10-29","v":-0.22},{"d":"2014-11-16","v":-0.26},{"d":"2014-12-04","v":-0.25},{"d":"2014-12-22","v":-0.24},
{"d":"2015-01-05","v":-0.26},{"d":"2015-01-23","v":-0.2},{"d":"2015-02-10","v":-0.12},{"d":"2015-02-28","v":-0.05},{"d":"2015-03-18","v":-0.1},{"d":"2015-04-05","v":-0.02},{"d":"2015-04-23","v":-0.08},{"d":"2015-05-11","v":0.0},{"d":"2015-05-29","v":-0.06},{"d":"2015-06-16","v":0.08},{"d":"2015-07-04","v":0.14},{"d":"2015-07-22","v":0.05},{"d":"2015-08-09","v":-0.05},{"d":"2015-08-27","v":-0.12},{"d":"2015-09-14","v":-0.04},{"d":"2015-10-02","v":-0.1},{"d":"2015-10-20","v":-0.15},{"d":"2015-11-07","v":-0.06},{"d":"2015-11-25","v":-0.12},{"d":"2015-12-13","v":-0.02},
{"d":"2015-01-14","v":-0.23},{"d":"2015-02-01","v":-0.16},{"d":"2015-02-19","v":-0.08},{"d":"2015-03-09","v":-0.07},{"d":"2015-03-27","v":-0.06},{"d":"2015-04-14","v":-0.05},{"d":"2015-05-02","v":-0.04},{"d":"2015-05-20","v":-0.03},{"d":"2015-06-07","v":0.02},{"d":"2015-06-25","v":0.11},{"d":"2015-07-13","v":0.1},{"d":"2015-07-31","v":0.0},{"d":"2015-08-18","v":-0.09},{"d":"2015-09-05","v":-0.08},{"d":"2015-09-23","v":-0.07},{"d":"2015-10-11","v":-0.13},{"d":"2015-10-29","v":-0.1},{"d":"2015-11-16","v":-0.09},{"d":"2015-12-04","v":-0.07},{"d":"2015-12-22","v":-0.06},
{"d":"2016-01-05","v":-0.1},{"d":"2016-01-23","v":-0.05},{"d":"2016-02-10","v":-0.13},{"d":"2016-02-28","v":-0.18},{"d":"2016-03-18","v":-0.08},{"d":"2016-04-05","v":-0.22},{"d":"2016-04-23","v":-0.14},{"d":"2016-05-11","v":-0.2},{"d":"2016-05-29","v":-0.1},{"d":"2016-06-16","v":-0.16},{"d":"2016-07-04","v":-0.06},{"d":"2016-07-22","v":-0.12},{"d":"2016-08-09","v":-0.03},{"d":"2016-08-27","v":-0.1},{"d":"2016-09-14","v":-0.14},{"d":"2016-10-02","v":-0.05},{"d":"2016-10-20","v":0.08},{"d":"2016-11-07","v":0.18},{"d":"2016-11-25","v":0.23},{"d":"2016-12-13","v":0.14},
{"d":"2016-01-14","v":-0.08},{"d":"2016-02-01","v":-0.09},{"d":"2016-02-19","v":-0.15},{"d":"2016-03-09","v":-0.13},{"d":"2016-03-27","v":-0.15},{"d":"2016-04-14","v":-0.18},{"d":"2016-05-02","v":-0.17},{"d":"2016-05-20","v":-0.15},{"d":"2016-06-07","v":-0.13},{"d":"2016-06-25","v":-0.11},{"d":"2016-07-13","v":-0.09},{"d":"2016-07-31","v":-0.07},{"d":"2016-08-18","v":-0.06},{"d":"2016-09-05","v":-0.12},{"d":"2016-09-23","v":-0.09},{"d":"2016-10-11","v":0.01},{"d":"2016-10-29","v":0.13},{"d":"2016-11-16","v":0.2},{"d":"2016-12-04","v":0.19},{"d":"2016-12-22","v":0.12},
{"d":"2017-01-05","v":0.1},{"d":"2017-01-23","v":0.15},{"d":"2017-02-10","v":0.07},{"d":"2017-02-28","v":0.12},{"d":"2017-03-18","v":0.08},{"d":"2017-04-05","v":0.13},{"d":"2017-04-23","v":0.0},{"d":"2017-05-11","v":-0.05},{"d":"2017-05-29","v":0.02},{"d":"2017-06-16","v":0.1},{"d":"2017-07-04","v":0.05},{"d":"2017-07-22","v":0.16},{"d":"2017-08-09","v":0.08},{"d":"2017-08-27","v":0.12},{"d":"2017-09-14","v":0.04},{"d":"2017-10-02","v":0.1},{"d":"2017-10-20","v":-0.02},{"d":"2017-11-07","v":0.02},{"d":"2017-11-25","v":-0.06},{"d":"2017-12-13","v":-0.1},
{"d":"2017-01-14","v":0.13},{"d":"2017-02-01","v":0.11},{"d":"2017-02-19","v":0.1},{"d":"2017-03-09","v":0.1},{"d":"2017-03-27","v":0.11},{"d":"2017-04-14","v":0.06},{"d":"2017-05-02","v":-0.03},{"d":"2017-05-20","v":-0.02},{"d":"2017-06-07","v":0.06},{"d":"2017-06-25","v":0.07},{"d":"2017-07-13","v":0.11},{"d":"2017-07-31","v":0.12},{"d":"2017-08-18","v":0.1},{"d":"2017-09-05","v":0.08},{"d":"2017-09-23","v":0.07},{"d":"2017-10-11","v":0.04},{"d":"2017-10-29","v":0.0},{"d":"2017-11-16","v":-0.02},{"d":"2017-12-04","v":-0.08},{"d":"2017-12-22","v":-0.06},
{"d":"2018-01-05","v":-0.02},{"d":"2018-01-23","v":-0.08},{"d":"2018-02-10","v":-0.12},{"d":"2018-02-28","v":-0.17},{"d":"2018-03-18","v":-0.1},{"d":"2018-04-05","v":-0.19},{"d":"2018-04-23","v":-0.12},{"d":"2018-05-11","v":-0.05},{"d":"2018-05-29","v":-0.09},{"d":"2018-06-16","v":-0.02},{"d":"2018-07-04","v":-0.07},{"d":"2018-07-22","v":-0.03},{"d":"2018-08-09","v":-0.1},{"d":"2018-08-27","v":-0.05},{"d":"2018-09-14","v":-0.08},{"d":"2018-10-02","v":-0.04},{"d":"2018-10-20","v":-0.15},{"d":"2018-11-07","v":-0.1},{"d":"2018-11-25","v":-0.22},{"d":"2018-12-13","v":-0.28},
{"d":"2018-01-14","v":-0.05},{"d":"2018-02-01","v":-0.1},{"d":"2018-02-19","v":-0.15},{"d":"2018-03-09","v":-0.14},{"d":"2018-03-27","v":-0.15},{"d":"2018-04-14","v":-0.16},{"d":"2018-05-02","v":-0.08},{"d":"2018-05-20","v":-0.07},{"d":"2018-06-07","v":-0.05},{"d":"2018-06-25","v":-0.05},{"d":"2018-07-13","v":-0.05},{"d":"2018-07-31","v":-0.07},{"d":"2018-08-18","v":-0.07},{"d":"2018-09-05","v":-0.06},{"d":"2018-09-23","v":-0.06},{"d":"2018-10-11","v":-0.1},{"d":"2018-10-29","v":-0.12},{"d":"2018-11-16","v":-0.16},{"d":"2018-12-04","v":-0.25},{"d":"2018-12-22","v":-0.24},
{"d":"2019-01-05","v":-0.2},{"d":"2019-01-23","v":-0.25},{"d":"2019-02-10","v":-0.17},{"d":"2019-02-28","v":-0.1},{"d":"2019-03-18","v":-0.16},{"d":"2019-04-05","v":-0.08},{"d":"2019-04-23","v":-0.14},{"d":"2019-05-11","v":-0.12},{"d":"2019-05-29","v":-0.18},{"d":"2019-06-16","v":-0.1},{"d":"2019-07-04","v":-0.15},{"d":"2019-07-22","v":-0.07},{"d":"2019-08-09","v":-0.12},
{"d":"2019-01-14","v":-0.23},{"d":"2019-02-01","v":-0.21},{"d":"2019-02-19","v":-0.13},{"d":"2019-03-09","v":-0.13},{"d":"2019-03-27","v":-0.12},{"d":"2019-04-14","v":-0.11},{"d":"2019-05-02","v":-0.13},{"d":"2019-05-20","v":-0.15},{"d":"2019-06-07","v":-0.14},{"d":"2019-06-25","v":-0.12},{"d":"2019-07-13","v":-0.11},{"d":"2019-07-31","v":-0.1}
],
"a10": [
{"d":"2007-07-04","v":-0.3},{"d":"2007-07-22","v":-0.35},{"d":"2007-08-09","v":-0.27},{"d":"2007-08-27","v":-0.33},{"d":"2007-09-14","v":-0.25},{"d":"2007-10-02","v":-0.3},{"d":"2007-10-20","v":-0.2},{"d":"2007-11-07","v":-0.26},{"d":"2007-11-25","v":-0.16},{"d":"2007-12-13","v":-0.08},
{"d":"2007-07-13","v":-0.33},{"d":"2007-07-31","v":-0.31},{"d":"2007-08-18","v":-0.3},{"d":"2007-09-05","v":-0.29},{"d":"2007-09-23","v":-0.28},{"d":"2007-10-11","v":-0.24},{"d":"2007-10-29","v":-0.23},{"d":"2007-11-16","v":-0.21},{"d":"2007-12-04","v":-0.12},{"d":"2007-12-22","v":-0.02},
{"d":"2008-01-05","v":0.02},{"d":"2008-01-23","v":-0.05},{"d":"2008-02-10","v":0.03},{"d":"2008-02-28","v":-0.06},{"d":"2008-03-18","v":-0.02},{"d":"2008-04-05","v":-0.1},{"d":"2008-04-23","v":-0.15},{"d":"2008-05-11","v":-0.22},{"d":"2008-05-29","v":-0.17},{"d":"2008-06-16","v":-0.25},{"d":"2008-07-04","v":-0.2},{"d":"2008-07-22","v":-0.27},{"d":"2008-08-09","v":-0.22},{"d":"2008-08-27","v":-0.25},{"d":"2008-09-14","v":-0.18},{"d":"2008-10-02","v":-0.24},{"d":"2008-10-20","v":-0.12},{"d":"2008-11-07","v":0.15},{"d":"2008-11-25","v":0.3},{"d":"2008-12-13","v":0.45},
{"d":"2008-01-14","v":-0.02},{"d":"2008-02-01","v":-0.01},{"d":"2008-02-19","v":-0.02},{"d":"2008-03-09","v":-0.04},{"d":"2008-03-27","v":-0.06},{"d":"2008-04-14","v":-0.13},{"d":"2008-05-02","v":-0.19},{"d":"2008-05-20","v":-0.19},{"d":"2008-06-07","v":-0.21},{"d":"2008-06-25","v":-0.23},{"d":"2008-07-13","v":-0.24},{"d":"2008-07-31","v":-0.24},{"d":"2008-08-18","v":-0.24},{"d":"2008-09-05","v":-0.21},{"d":"2008-09-23","v":-0.21},{"d":"2008-10-11","v":-0.18},{"d":"2008-10-29","v":0.02},{"d":"2008-11-16","v":0.22},{"d":"2008-12-04","v":0.38},{"d":"2008-12-22","v":0.52},
{"d":"2009-01-05","v":0.6},{"d":"2009-01-23","v":0.75},{"d":"2009-02-10","v":0.55},{"d":"2009-02-28","v":0.95},{"d":"2009-03-18","v":0.5},{"d":"2009-04-05","v":0.62},{"d":"2009-04-23","v":0.45},{"d":"2009-05-11","v":0.85},{"d":"2009-05-29","v":0.72},{"d":"2009-06-16","v":0.8},{"d":"2009-07-04","v":0.6},{"d":"2009-07-22","v":0.68},{"d":"2009-08-09","v":0.52},{"d":"2009-08-27","v":0.62},{"d":"2009-09-14","v":0.3},{"d":"2009-10-02","v":0.2},{"d":"2009-10-20","v":0.12},{"d":"2009-11-07","v":0.22},{"d":"2009-11-25","v":0.09},{"d":"2009-12-13","v":0.18},
{"d":"2009-01-14","v":0.68},{"d":"2009-02-01","v":0.65},{"d":"2009-02-19","v":0.78},{"d":"2009-03-09","v":0.7},{"d":"2009-03-27","v":0.56},{"d":"2009-04-14","v":0.52},{"d":"2009-05-02","v":0.66},{"d":"2009-05-20","v":0.78},{"d":"2009-06-07","v":0.76},{"d":"2009-06-25","v":0.7},{"d":"2009-07-13","v":0.64},{"d":"2009-07-31","v":0.58},{"d":"2009-08-18","v":0.57},{"d":"2009-09-05","v":0.45},{"d":"2009-09-23","v":0.25},{"d":"2009-10-11","v":0.16},{"d":"2009-10-29","v":0.17},{"d":"2009-11-16","v":0.15},{"d":"2009-12-04","v":0.13},{"d":"2009-12-22","v":0.25},
{"d":"2010-01-05","v":0.35},{"d":"2010-01-23","v":0.15},{"d":"2010-02-10","v":0.25},{"d":"2010-02-28","v":0.12},{"d":"2010-03-18","v":0.28},{"d":"2010-04-05","v":0.2},{"d":"2010-04-23","v":0.32},{"d":"2010-05-11","v":0.42},{"d":"2010-05-29","v":0.35},{"d":"2010-06-16","v":0.5},{"d":"2010-07-04","v":0.4},{"d":"2010-07-22","v":0.55},{"d":"2010-08-09","v":0.44},{"d":"2010-08-27","v":0.3},{"d":"2010-09-14","v":0.25},{"d":"2010-10-02","v":0.15},{"d":"2010-10-20","v":0.22},{"d":"2010-11-07","v":0.12},{"d":"2010-11-25","v":0.26},{"d":"2010-12-13","v":0.18},
{"d":"2010-01-14","v":0.24},{"d":"2010-02-01","v":0.2},{"d":"2010-02-19","v":0.18},{"d":"2010-03-09","v":0.2},{"d":"2010-03-27","v":0.24},{"d":"2010-04-14","v":0.26},{"d":"2010-05-02","v":0.37},{"d":"2010-05-20","v":0.38},{"d":"2010-06-07","v":0.43},{"d":"2010-06-25","v":0.45},{"d":"2010-07-13","v":0.48},{"d":"2010-07-31","v":0.5},{"d":"2010-08-18","v":0.36},{"d":"2010-09-05","v":0.28},{"d":"2010-09-23","v":0.2},{"d":"2010-10-11","v":0.19},{"d":"2010-10-29","v":0.17},{"d":"2010-11-16","v":0.19},{"d":"2010-12-04","v":0.22},{"d":"2010-12-22","v":0.21},
{"d":"2011-01-05","v":0.2},{"d":"2011-01-23","v":0.12},{"d":"2011-02-10","v":0.24},{"d":"2011-02-28","v":0.05},{"d":"2011-03-18","v":0.0},{"d":"2011-04-05","v":-0.06},{"d":"2011-04-23","v":0.03},{"d":"2011-05-11","v":-0.1},{"d":"2011-05-29","v":-0.05},{"d":"2011-06-16","v":-0.15},{"d":"2011-07-04","v":-0.08},{"d":"2011-07-22","v":-0.2},{"d":"2011-08-09","v":-0.12},{"d":"2011-08-27","v":-0.22},{"d":"2011-09-14","v":-0.16},{"d":"2011-10-02","v":-0.06},{"d":"2011-10-20","v":-0.1},{"d":"2011-11-07","v":0.02},{"d":"2011-11-25","v":-0.04},{"d":"2011-12-13","v":0.08},
{"d":"2011-01-14","v":0.16},{"d":"2011-02-01","v":0.18},{"d":"2011-02-19","v":0.14},{"d":"2011-03-09","v":0.02},{"d":"2011-03-27","v":-0.03},{"d":"2011-04-14","v":-0.02},{"d":"2011-05-02","v":-0.04},{"d":"2011-05-20","v":-0.08},{"d":"2011-06-07","v":-0.1},{"d":"2011-06-25","v":-0.12},{"d":"2011-07-13","v":-0.14},{"d":"2011-07-31","v":-0.16},{"d":"2011-08-18","v":-0.17},{"d":"2011-09-05","v":-0.19},{"d":"2011-09-23","v":-0.11},{"d":"2011-10-11","v":-0.08},{"d":"2011-10-29","v":-0.04},{"d":"2011-11-16","v":-0.01},{"d":"2011-12-04","v":0.02},{"d":"2011-12-22","v":0.06},
{"d":"2012-01-05","v":0.05},{"d":"2012-01-23","v":0.11},{"d":"2012-02-10","v":0.08},{"d":"2012-02-28","v":0.2},{"d":"2012-03-18","v":0.12},{"d":"2012-04-05","v":0.24},{"d":"2012-04-23","v":0.18},{"d":"2012-05-11","v":0.28},{"d":"2012-05-29","v":0.2},{"d":"2012-06-16","v":0.4},{"d":"2012-07-04","v":0.52},{"d":"2012-07-22","v":0.5},{"d":"2012-08-09","v":0.63},{"d":"2012-08-27","v":0.45},{"d":"2012-09-14","v":0.35},{"d":"2012-10-02","v":0.22},{"d":"2012-10-20","v":0.3},{"d":"2012-11-07","v":0.2},{"d":"2012-11-25","v":0.12},{"d":"2012-12-13","v":0.18},
{"d":"2012-01-14","v":0.08},{"d":"2012-02-01","v":0.1},{"d":"2012-02-19","v":0.14},{"d":"2012-03-09","v":0.16},{"d":"2012-03-27","v":0.18},{"d":"2012-04-14","v":0.21},{"d":"2012-05-02","v":0.23},{"d":"2012-05-20","v":0.24},{"d":"2012-06-07","v":0.3},{"d":"2012-06-25","v":0.46},{"d":"2012-07-13","v":0.56},{"d":"2012-07-31","v":0.58},{"d":"2012-08-18","v":0.55},{"d":"2012-09-05","v":0.4},{"d":"2012-09-23","v":0.28},{"d":"2012-10-11","v":0.26},{"d":"2012-10-29","v":0.25},{"d":"2012-11-16","v":0.16},{"d":"2012-12-04","v":0.15},{"d":"2012-12-22","v":0.14},
{"d":"2013-01-05","v":0.1},{"d":"2013-01-23","v":0.04},{"d":"2013-02-10","v":0.15},{"d":"2013-02-28","v":0.08},{"d":"2013-03-18","v":0.2},{"d":"2013-04-05","v":0.12},{"d":"2013-04-23","v":0.24},{"d":"2013-05-11","v":0.3},{"d":"2013-05-29","v":0.2},{"d":"2013-06-16","v":0.34},{"d":"2013-07-04","v":0.26},{"d":"2013-07-22","v":0.3},{"d":"2013-08-09","v":0.22},{"d":"2013-08-27","v":0.32},{"d":"2013-09-14","v":0.18},{"d":"2013-10-02","v":0.24},{"d":"2013-10-20","v":0.14},{"d":"2013-11-07","v":0.2},{"d":"2013-11-25","v":0.11},{"d":"2013-12-13","v":0.16},
{"d":"2013-01-14","v":0.07},{"d":"2013-02-01","v":0.1},{"d":"2013-02-19","v":0.12},{"d":"2013-03-09","v":0.14},{"d":"2013-03-27","v":0.16},{"d":"2013-04-14","v":0.18},{"d":"2013-05-02","v":0.27},{"d":"2013-05-20","v":0.25},{"d":"2013-06-07","v":0.27},{"d":"2013-06-25","v":0.3},{"d":"2013-07-13","v":0.28},{"d":"2013-07-31","v":0.26},{"d":"2013-08-18","v":0.27},{"d":"2013-09-05","v":0.25},{"d":"2013-09-23","v":0.21},{"d":"2013-10-11","v":0.19},{"d":"2013-10-29","v":0.17},{"d":"2013-11-16","v":0.16},{"d":"2013-12-04","v":0.14},{"d":"2013-12-22","v":0.11},
{"d":"2014-01-05","v":0.06},{"d":"2014-01-23","v":-0.04},{"d":"2014-02-10","v":0.02},{"d":"2014-02-28","v":-0.12},{"d":"2014-03-18","v":-0.18},{"d":"2014-04-05","v":-0.1},{"d":"2014-04-23","v":-0.2},{"d":"2014-05-11","v":-0.14},{"d":"2014-05-29","v":-0.08},{"d":"2014-06-16","v":-0.16},{"d":"2014-07-04","v":-0.1},{"d":"2014-07-22","v":-0.15},{"d":"2014-08-09","v":-0.07},{"d":"2014-08-27","v":-0.13},{"d":"2014-09-14","v":-0.09},{"d":"2014-10-02","v":-0.16},{"d":"2014-10-20","v":-0.12},{"d":"2014-11-07","v":-0.2},{"d":"2014-11-25","v":-0.28},{"d":"2014-12-13","v":-0.33},
{"d":"2014-01-14","v":0.01},{"d":"2014-02-01","v":-0.01},{"d":"2014-02-19","v":-0.05},{"d":"2014-03-09","v":-0.15},{"d":"2014-03-27","v":-0.14},{"d":"2014-04-14","v":-0.15},{"d":"2014-05-02","v":-0.17},{"d":"2014-05-20","v":-0.11},{"d":"2014-06-07","v":-0.12},{"d":"2014-06-25","v":-0.13},{"d":"2014-07-13","v":-0.12},{"d":"2014-07-31","v":-0.11},{"d":"2014-08-18","v":-0.1},{"d":"2014-09-05","v":-0.11},{"d":"2014-09-23","v":-0.12},{"d":"2014-10-11","v":-0.14},{"d":"2014-10-29","v":-0.16},{"d":"2014-11-16","v":-0.24},{"d":"2014-12-04","v":-0.3},{"d":"2014-12-22","v":-0.29},
{"d":"2015-01-05","v":-0.26},{"d":"2015-01-23","v":-0.3},{"d":"2015-02-10","v":-0.24},{"d":"2015-02-28","v":-0.28},{"d":"2015-03-18","v":-0.25},{"d":"2015-04-05","v":-0.3},{"d":"2015-04-23","v":-0.26},{"d":"2015-05-11","v":-0.24},{"d":"2015-05-29","v":-0.29},{"d":"2015-06-16","v":-0.25},{"d":"2015-07-04","v":-0.27},{"d":"2015-07-22","v":-0.32},{"d":"2015-08-09","v":-0.26},{"d":"2015-08-27","v":-0.34},{"d":"2015-09-14","v":-0.28},{"d":"2015-10-02","v":-0.33},{"d":"2015-10-20","v":-0.25},{"d":"2015-11-07","v":-0.3},{"d":"2015-11-25","v":-0.27},{"d":"2015-12-13","v":-0.22},
{"d":"2015-01-14","v":-0.28},{"d":"2015-02-01","v":-0.27},{"d":"2015-02-19","v":-0.26},{"d":"2015-03-09","v":-0.27},{"d":"2015-03-27","v":-0.27},{"d":"2015-04-14","v":-0.28},{"d":"2015-05-02","v":-0.25},{"d":"2015-05-20","v":-0.27},{"d":"2015-06-07","v":-0.27},{"d":"2015-06-25","v":-0.26},{"d":"2015-07-13","v":-0.29},{"d":"2015-07-31","v":-0.29},{"d":"2015-08-18","v":-0.3},{"d":"2015-09-05","v":-0.31},{"d":"2015-09-23","v":-0.3},{"d":"2015-10-11","v":-0.29},{"d":"2015-10-29","v":-0.28},{"d":"2015-11-16","v":-0.28},{"d":"2015-12-04","v":-0.25},{"d":"2015-12-22","v":-0.21},
{"d":"2016-01-05","v":-0.2},{"d":"2016-01-23","v":-0.26},{"d":"2016-02-10","v":-0.18},{"d":"2016-02-28","v":-0.05},{"d":"2016-03-18","v":0.04},{"d":"2016-04-05","v":-0.08},{"d":"2016-04-23","v":-0.15},{"d":"2016-05-11","v":-0.1},{"d":"2016-05-29","v":-0.18},{"d":"2016-06-16","v":-0.06},{"d":"2016-07-04","v":0.02},{"d":"2016-07-22","v":0.05},
{"d":"2016-01-14","v":-0.23},{"d":"2016-02-01","v":-0.22},{"d":"2016-02-19","v":-0.11},{"d":"2016-03-09","v":-0.01},{"d":"2016-03-27","v":-0.02},{"d":"2016-04-14","v":-0.12},{"d":"2016-05-02","v":-0.13},{"d":"2016-05-20","v":-0.14},{"d":"2016-06-07","v":-0.12},{"d":"2016-06-25","v":-0.02},{"d":"2016-07-13","v":0.0},{"d":"2016-07-31","v":0.03},
{"d":"2016-08-09","v":0},{"d":"2016-08-27","v":0},{"d":"2016-09-14","v":0},{"d":"2016-10-02","v":0},{"d":"2016-10-20","v":0},{"d":"2016-11-07","v":0},{"d":"2016-11-25","v":0},{"d":"2016-12-13","v":0},
{"d":"2017-01-05","v":0},{"d":"2017-01-23","v":0},{"d":"2017-02-10","v":0},{"d":"2017-02-28","v":0},{"d":"2017-03-18","v":0},{"d":"2017-04-05","v":0},{"d":"2017-04-23","v":0},{"d":"2017-05-11","v":0},{"d":"2017-05-29","v":0},{"d":"2017-06-16","v":0},{"d":"2017-07-04","v":0},{"d":"2017-07-22","v":0},{"d":"2017-08-09","v":0},{"d":"2017-08-27","v":0},{"d":"2017-09-14","v":0},{"d":"2017-10-02","v":0},{"d":"2017-10-20","v":0},{"d":"2017-11-07","v":0},{"d":"2017-11-25","v":0},{"d":"2017-12-13","v":0},
{"d":"2018-01-05","v":0},{"d":"2018-01-23","v":0},{"d":"2018-02-10","v":0},{"d":"2018-02-28","v":0},{"d":"2018-03-18","v":0},{"d":"2018-04-05","v":0},{"d":"2018-04-23","v":0},{"d":"2018-05-11","v":0},{"d":"2018-05-29","v":0},{"d":"2018-06-16","v":0},{"d":"2018-07-04","v":0},{"d":"2018-07-22","v":0},{"d":"2018-08-09","v":0},{"d":"2018-08-27","v":0},{"d":"2018-09-14","v":0},{"d":"2018-10-02","v":0},{"d":"2018-10-20","v":0},{"d":"2018-11-07","v":0},{"d":"2018-11-25","v":0},{"d":"2018-12-13","v":0},
{"d":"2019-01-05","v":0},{"d":"2019-01-23","v":0},{"d":"2019-02-10","v":0},{"d":"2019-02-28","v":0},{"d":"2019-03-18","v":0},{"d":"2019-04-05","v":0},{"d":"2019-04-23","v":0},{"d":"2019-05-11","v":0},{"d":"2019-05-29","v":0},{"d":"2019-06-16","v":0},{"d":"2019-07-04","v":0},{"d":"2019-07-22","v":0},{"d":"2019-08-09","v":0},{"d":"2019-08-27","v":0},{"d":"2019-09-14","v":0},{"d":"2019-10-02","v":0},{"d":"2019-10-20","v":0},{"d":"2019-11-07","v":0},{"d":"2019-11-25","v":0},{"d":"2019-12-13","v":0},
{"d":"2020-01-05","v":0},{"d":"2020-01-23","v":0},{"d":"2020-02-10","v":0},{"d":"2020-02-28","v":0},{"d":"2020-03-18","v":0},{"d":"2020-04-05","v":0},{"d":"2020-04-23","v":0},{"d":"2020-05-11","v":0},{"d":"2020-05-29","v":0},{"d":"2020-06-16","v":0},{"d":"2020-07-04","v":0},{"d":"2020-07-22","v":0},{"d":"2020-08-09","v":0},{"d":"2020-08-27","v":0},{"d":"2020-09-14","v":0},{"d":"2020-10-02","v":0},{"d":"2020-10-20","v":0},{"d":"2020-11-07","v":0},{"d":"2020-11-25","v":0},{"d":"2020-12-13","v":0},
{"d":"2021-01-05","v":0},{"d":"2021-01-23","v":0},{"d":"2021-02-10","v":0},{"d":"2021-02-28","v":0},{"d":"2021-03-18","v":0},{"d":"2021-04-05","v":0},{"d":"2021-04-23","v":0},{"d":"2021-05-11","v":0},{"d":"2021-05-29","v":0},{"d":"2021-06-16","v":0},{"d":"2021-07-04","v":0},{"d":"2021-07-22","v":0},{"d":"2021-08-09","v":0},{"d":"2021-08-27","v":0},{"d":"2021-09-14","v":0},{"d":"2021-10-02","v":0},{"d":"2021-10-20","v":0},{"d":"2021-11-07","v":0},{"d":"2021-11-25","v":0},{"d":"2021-12-13","v":0},
{"d":"2022-01-05","v":0},{"d":"2022-01-23","v":0},{"d":"2022-02-10","v":0},{"d":"2022-02-28","v":0},{"d":"2022-03-18","v":0},{"d":"2022-04-05","v":0},{"d":"2022-04-23","v":0},{"d":"2022-05-11","v":0},{"d":"2022-05-29","v":0},{"d":"2022-06-16","v":0},{"d":"2022-07-04","v":0},{"d":"2022-07-22","v":0},{"d":"2022-08-09","v":0},{"d":"2022-08-27","v":0},{"d":"2022-09-14","v":0},{"d":"2022-10-02","v":0},{"d":"2022-10-20","v":0},{"d":"2022-11-07","v":0},{"d":"2022-11-25","v":0},{"d":"2022-12-13","v":0},{"d":"2022-12-28","v":0}
]
},
"vconcat": [
{
"width": 1693,
"height": 39,
"view": {"fill": "#7ec67e", "stroke": null},
"data": {"values": [{"t": "ADAM Informe. Evolution historique des performances en euros pour des détentions de 4 ans (A04) à 10 ans (A10) avec les revenus connus capitalisés"}]},
"mark": {"type": "text", "font": "Lato", "fontWeight": "bold", "fontSize": 23.55, "color": "#000000", "dx": -45},
"encoding": {"text": {"field": "t", "type": "nominal"}}
},
{
"spacing": 0,
"hconcat": [
{
"width": 1,
"height": 720,
"data": {"values": [{}]},
"mark": {"type": "point", "size": 0, "strokeWidth": 0, "opacity": 0}
},
{
"width": 1565,
"height": 720,
"title": {
"text": ["Performance par rapport à l'indice CAC 40 GROSS TR  du placement Getlink SE en fonction de la date de début pour des durées", "entre 4 (A04) et 10 ans (A10). Cotations entre juil. 2007 et juil. 2026. Revenus CAPITALISES depuis juil. 2009."],
"font": "Lato", "fontSize": 20.4, "fontWeight": "bold", "color": "#595959", "lineHeight": 39, "offset": -59, "anchor": "middle", "frame": "group", "dx": -11
},
"layer": [
{
"data": {"values": [{}]},
"mark": {"type": "rect", "fill": "#ffffff"},
"encoding": {
"x": {"datum": {"year": 2000, "month": 3, "date": 10}, "type": "temporal"},
"x2": {"datum": {"year": 2019, "month": 6, "date": 10}},
"y": {"datum": 1.08, "type": "quantitative"},
"y2": {"datum": 1.2}
}
},
{
"data": {"values": [{}]},
"mark": {"type": "rule", "color": "#c8c8c8", "strokeWidth": 2},
"encoding": {"y": {"datum": -0.418, "type": "quantitative"}}
},
{
"data": {"name": "zero"},
"mark": {"type": "line", "color": "#000000", "strokeWidth": 4},
"encoding": {
"x": {"field": "d", "type": "temporal"},
"y": {"field": "v", "type": "quantitative"},
"strokeDash": {"datum": "0,0%", "type": "nominal", "scale": {"range": [[1, 0]]},
"legend": {"title": "\u00a0", "titleOrient": "left", "titleFontSize": 1, "titlePadding": 14, "orient": "none", "legendX": 1378, "legendY": 283, "fillColor": "#ffffff", "padding": 19,
"symbolType": "stroke", "symbolSize": 1296, "symbolStrokeWidth": 4, "symbolStrokeColor": "#000000", "labelOffset": 1,
"labelFont": "Lato", "labelFontSize": 20, "labelFontWeight": "bold", "labelColor": "#595959"}}
}
},
{
"data": {"name": "a04"},
"mark": {"type": "point", "shape": "M-1,0H1M0,-1V1", "filled": false, "size": 49, "strokeWidth": 2, "opacity": 1},
"encoding": {
"x": {"field": "d", "type": "temporal",
"scale": {"domain": [{"year": 1997, "month": 1, "date": 1}, {"year": 2023, "month": 1, "date": 1}]},
"axis": {"title": null, "values": [{"year": 1997, "month": 1, "date": 1}, {"year": 1999, "month": 1, "date": 1}, {"year": 2001, "month": 1, "date": 1}, {"year": 2003, "month": 1, "date": 1}, {"year": 2005, "month": 1, "date": 1}, {"year": 2007, "month": 1, "date": 1}, {"year": 2009, "month": 1, "date": 1}, {"year": 2011, "month": 1, "date": 1}, {"year": 2013, "month": 1, "date": 1}, {"year": 2015, "month": 1, "date": 1}, {"year": 2017, "month": 1, "date": 1}, {"year": 2019, "month": 1, "date": 1}, {"year": 2021, "month": 1, "date": 1}],
"format": "%d/%m/%Y", "labelFont": "Lato", "labelFontSize": 15, "labelColor": "#595959", "ticks": false, "domain": false, "labelPadding": 16, "grid": true, "gridColor": "#d9d9d9", "gridWidth": 1.5, "labelOverlap": false, "labelFlush": false}},
"y": {"field": "v", "type": "quantitative",
"scale": {"domain": [-0.6, 1.2], "nice": false, "zero": false},
"axis": {"title": null, "values": [-0.6, -0.4, -0.2, 0, 0.2, 0.4, 0.6, 0.8, 1, 1.2],
"labelExpr": "datum.value < 0 ? '- ' + format(-datum.value, '.0%') : format(datum.value, '.0%')",
"labelFont": "Lato", "labelFontSize": 15, "labelColor": "#595959", "ticks": false, "domain": false, "labelPadding": 14, "minExtent": 71, "maxExtent": 71, "grid": true, "gridColor": "#d9d9d9", "gridWidth": 1.5}},
"color": {"datum": "Rendement_A04", "type": "nominal",
"scale": {"domain": ["Rendement_A04", "Rendement_A07", "Rendement_A10"], "range": ["#ffc000", "#0070c0", "#ff0000"]},
"legend": {"title": "\u00a0", "titleOrient": "left", "titleFontSize": 1, "titlePadding": 38, "orient": "none", "legendX": 1382, "legendY": 151, "fillColor": "#ffffff", "padding": 10,
"symbolType": "M-1,0H1M0,-1V1", "symbolSize": 36, "symbolStrokeWidth": 1.5, "labelOffset": 1, "rowPadding": 30, "labelLimit": 400,
"labelFont": "Lato", "labelFontSize": 20, "labelFontWeight": "bold", "labelColor": "#595959"}}
}
},
{
"data": {"name": "a07"},
"mark": {"type": "point", "shape": "M-1,0H1M0,-1V1", "filled": false, "size": 49, "strokeWidth": 2, "opacity": 1},
"encoding": {
"x": {"field": "d", "type": "temporal"},
"y": {"field": "v", "type": "quantitative"},
"color": {"datum": "Rendement_A07", "type": "nominal"}
}
},
{
"data": {"name": "a10"},
"mark": {"type": "point", "shape": "M-1,0H1M0,-1V1", "filled": false, "size": 49, "strokeWidth": 2, "opacity": 1},
"encoding": {
"x": {"field": "d", "type": "temporal"},
"y": {"field": "v", "type": "quantitative"},
"color": {"datum": "Rendement_A10", "type": "nominal"}
}
}
]
}
]
}
]
}
